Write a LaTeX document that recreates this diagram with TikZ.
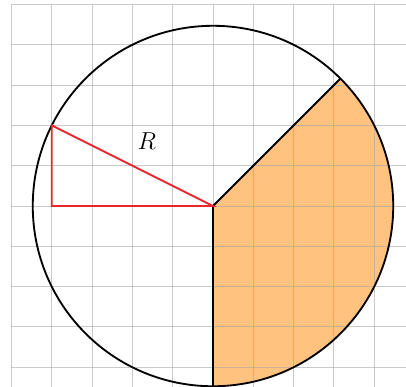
\documentclass[tikz,border=0pt]{standalone}
\usetikzlibrary{calc}
\begin{document}
\begin{tikzpicture}
\definecolor{sectorfill}{HTML}{FFC27F}
\definecolor{gridgray}{HTML}{A8A8A8}
\definecolor{radred}{HTML}{E8262C}
\tikzset{
  gridline/.style={draw=gridgray, line width=0.65pt, opacity=0.6},
  outline/.style={draw=black, line width=1.3pt},
  redline/.style={draw=radred, line width=1.3pt, line join=miter},
}
\useasboundingbox (-5.285,-4.466) rectangle (4.789,5.112);
\fill[white] (-5.285,-4.466) rectangle (4.789,5.112);
\pgfmathsetmacro{\rad}{sqrt(20)}
\coordinate (O) at (0,0);
\coordinate (A) at (-4,2);
\coordinate (B) at (-4,0);
\coordinate (C) at (45:\rad);
\coordinate (D) at (0,-\rad);
% sector
\fill[sectorfill] (O) -- (D) arc[start angle=-90, end angle=45, radius=\rad] -- cycle;
% grid
\foreach \x in {-5,...,4} \draw[gridline] (\x,5) -- (\x,-4.5);
\foreach \y in {-4,...,5} \draw[gridline] (-5,\y) -- (4.8,\y);
% circle and sector edges
\draw[outline] (O) circle[radius=\rad];
\draw[outline] (D) -- (O) -- (C);
% red triangle
\draw[redline] (O) -- (A) -- (B) -- cycle;
\node[font=\fontsize{19}{21}\selectfont] (Rlab) at (-1.64,1.6) {$R$};
\end{tikzpicture}
\end{document}
